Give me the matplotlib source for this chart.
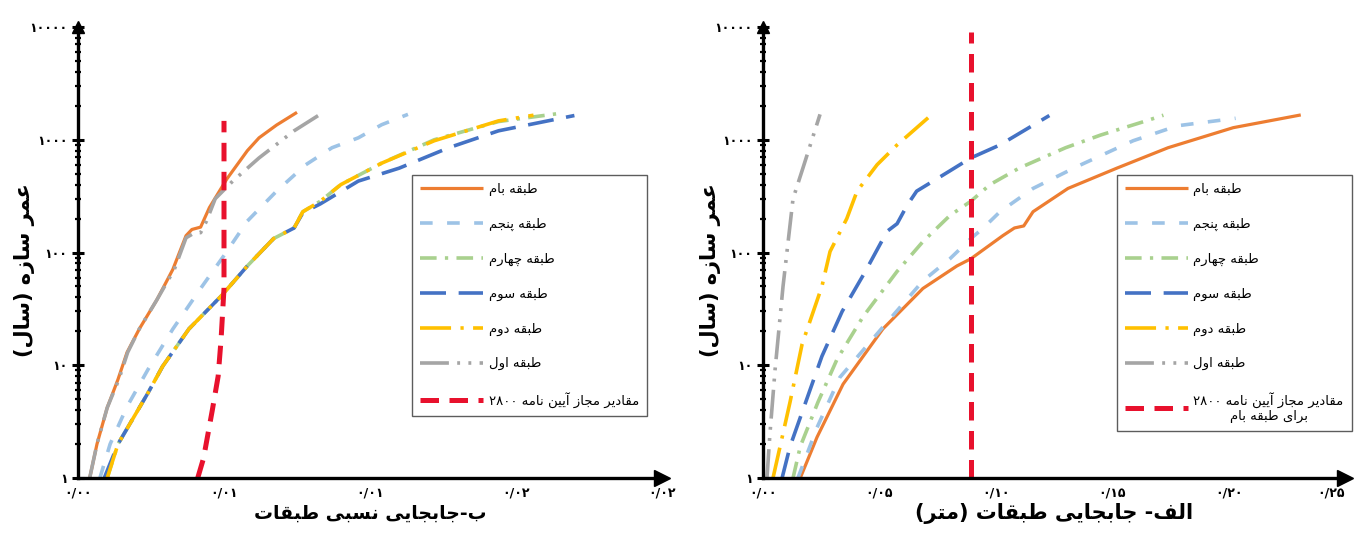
import re
import matplotlib
matplotlib.use("Agg")
import matplotlib.pyplot as plt

plt.rcParams['font.family'] = ['DejaVu Sans']

# ---- data: left panel (relative drift) ----
roof_drift = [0.0004, 0.00065, 0.001, 0.00137, 0.00168, 0.0021, 0.0027, 0.00325, 0.0037, 0.0039,
              0.0042, 0.0045, 0.0051, 0.0058, 0.0062, 0.0068, 0.0075]
roof_drift_yr = [1, 2, 4.2, 7.5, 13, 21, 38, 71, 141, 160, 168, 250, 450, 800, 1040, 1350, 1750]

f5_drift = [0.00075, 0.0011, 0.00168, 0.0024, 0.00325, 0.0042, 0.005, 0.0058, 0.0068, 0.0078,
            0.0087, 0.0096, 0.0104, 0.0113]
f5_drift_yr = [1, 2, 4.3, 9.2, 21, 48, 94, 190, 350, 600, 850, 1040, 1360, 1680]

f4_drift = [0.001, 0.00137, 0.0024, 0.0029, 0.0038, 0.0049, 0.0058, 0.0067, 0.0074, 0.0077,
            0.0083, 0.009, 0.0104, 0.0122, 0.0144, 0.0164]
f4_drift_yr = [1, 2, 5.7, 9.8, 21, 41, 76, 133, 165, 230, 285, 400, 620, 1000, 1450, 1700]

f3_drift = [0.0009, 0.00137, 0.0024, 0.0029, 0.0038, 0.0049, 0.0058, 0.0067, 0.0074, 0.0077,
            0.0083, 0.0096, 0.011, 0.0127, 0.0144, 0.017]
f3_drift_yr = [1, 2, 5.7, 9.8, 21, 41, 76, 133, 165, 225, 270, 430, 560, 850, 1200, 1640]

f2_drift = [0.001, 0.00137, 0.0024, 0.0029, 0.0038, 0.0049, 0.0058, 0.0067, 0.0074, 0.0077,
            0.0083, 0.009, 0.0104, 0.0122, 0.0133, 0.0144, 0.0156]
f2_drift_yr = [1, 2, 5.7, 9.8, 21, 41, 76, 133, 165, 230, 285, 400, 620, 980, 1200, 1470, 1650]

f1_drift = [0.0004, 0.00065, 0.001, 0.0014, 0.0017, 0.0021, 0.0027, 0.0033, 0.0037, 0.004,
            0.0042, 0.0044, 0.0047, 0.0053, 0.0062, 0.0074, 0.0084]
f1_drift_yr = [1, 2, 4.2, 7.5, 13, 21, 38, 71, 135, 150, 150, 190, 300, 430, 690, 1200, 1750]

limit_drift = [0.0041, 0.0043, 0.0046, 0.0048, 0.0049, 0.005, 0.005]
limit_drift_yr = [1, 1.5, 4, 8, 17, 48, 1470]

# ---- data: right panel (displacement, m) ----
roof_disp = [0.016, 0.0232, 0.0344, 0.0515, 0.0687, 0.0833, 0.0893, 0.103, 0.108, 0.112, 0.116,
             0.131, 0.152, 0.174, 0.202, 0.231]
roof_disp_yr = [1, 2.3, 6.8, 21, 48, 76, 88, 141, 165, 172, 230, 370, 560, 850, 1280, 1660]

f5_disp = [0.015, 0.0232, 0.033, 0.0515, 0.0687, 0.0803, 0.0893, 0.0945, 0.1018, 0.116, 0.135,
           0.159, 0.178, 0.203]
f5_disp_yr = [1, 2.8, 7.8, 21.8, 56, 88, 133, 164, 230, 370, 580, 980, 1330, 1550]

f4_disp = [0.0129, 0.016, 0.0236, 0.0318, 0.043, 0.0576, 0.0687, 0.0803, 0.0893, 0.0975, 0.11,
           0.123, 0.13, 0.145, 0.165, 0.172]
f4_disp_yr = [1, 1.9, 4.7, 11.3, 27, 68, 125, 213, 285, 400, 560, 735, 850, 1100, 1480, 1650]

f3_disp = [0.0082, 0.0116, 0.0253, 0.034, 0.0438, 0.0533, 0.0576, 0.0619, 0.066, 0.0803, 0.0893,
           0.1018, 0.123]
f3_disp_yr = [1, 1.9, 12, 30, 67, 154, 180, 262, 350, 530, 690, 900, 1640]

f2_disp = [0.0043, 0.0116, 0.0168, 0.0253, 0.0288, 0.036, 0.0404, 0.049, 0.0576, 0.0726]
f2_disp_yr = [1, 4.7, 15.4, 50, 102, 200, 350, 600, 900, 1680]

f1_disp = [0.0017, 0.003, 0.0052, 0.0086, 0.0129, 0.0172, 0.0245]
f1_disp_yr = [1, 2.5, 9.2, 50, 300, 565, 1680]

limit_disp = [0.0893, 0.0893]
limit_disp_yr = [1, 9000]

y_ticks = [1, 10, 100, 1000, 10000]
y_tick_labels = ['۱', '۱۰', '۱۰۰', '۱۰۰۰', '۱۰۰۰۰']
xl_ticks = [0, 0.005, 0.01, 0.015, 0.02]
xl_tick_labels = ['۰/۰۰', '۰/۰۱', '۰/۰۱', '۰/۰۲', '۰/۰۲']
xr_ticks = [0, 0.05, 0.10, 0.15, 0.20, 0.25]
xr_tick_labels = ['۰/۰۰', '۰/۰۵', '۰/۱۰', '۰/۱۵', '۰/۲۰', '۰/۲۵']

names = ['طبقه بام', 'طبقه پنجم', 'طبقه چهارم', 'طبقه سوم', 'طبقه دوم', 'طبقه اول']
limit_name_left = 'مقادیر مجاز آیین نامه ۲۸۰۰'
limit_name_right = 'مقادیر مجاز آیین نامه ۲۸۰۰\nبرای طبقه بام'

# ---- simple persian shaping (matplotlib has no complex text layout) ----
FORMS = {
    'ا': ('\uFE8D', '\uFE8E', None, None), 'آ': ('\uFE81', '\uFE82', None, None),
    'ب': ('\uFE8F', '\uFE90', '\uFE91', '\uFE92'), 'پ': ('\uFB56', '\uFB57', '\uFB58', '\uFB59'),
    'ت': ('\uFE95', '\uFE96', '\uFE97', '\uFE98'), 'ج': ('\uFE9D', '\uFE9E', '\uFE9F', '\uFEA0'),
    'چ': ('\uFB7A', '\uFB7B', '\uFB7C', '\uFB7D'), 'د': ('\uFEA9', '\uFEAA', None, None),
    'ر': ('\uFEAD', '\uFEAE', None, None), 'ز': ('\uFEAF', '\uFEB0', None, None),
    'س': ('\uFEB1', '\uFEB2', '\uFEB3', '\uFEB4'), 'ط': ('\uFEC1', '\uFEC2', '\uFEC3', '\uFEC4'),
    'ع': ('\uFEC9', '\uFECA', '\uFECB', '\uFECC'), 'ف': ('\uFED1', '\uFED2', '\uFED3', '\uFED4'),
    'ق': ('\uFED5', '\uFED6', '\uFED7', '\uFED8'), 'ل': ('\uFEDD', '\uFEDE', '\uFEDF', '\uFEE0'),
    'م': ('\uFEE1', '\uFEE2', '\uFEE3', '\uFEE4'), 'ن': ('\uFEE5', '\uFEE6', '\uFEE7', '\uFEE8'),
    'ه': ('\uFEE9', '\uFEEA', '\uFEEB', '\uFEEC'), 'و': ('\uFEED', '\uFEEE', None, None),
    'ی': ('\uFBFC', '\uFBFD', '\uFBFE', '\uFBFF'),
}
MIRROR = {'(': ')', ')': '('}


def fa_line(s):
    out = []
    for i, c in enumerate(s):
        if c not in FORMS:
            out.append(c)
            continue
        prev = s[i - 1] if i > 0 else ''
        nxt = s[i + 1] if i + 1 < len(s) else ''
        jp = prev in FORMS and FORMS[prev][2] is not None
        jn = FORMS[c][2] is not None and nxt in FORMS
        iso, fin, ini, med = FORMS[c]
        out.append(med if jp and jn else fin if jp else ini if jn else iso)
    shaped = ''.join(out)
    runs = re.findall(r'[۰-۹0-9]+(?:[/.][۰-۹0-9]+)*|[^۰-۹0-9]+', shaped)
    vis = []
    for r in reversed(runs):
        if re.match(r'[۰-۹0-9]', r):
            vis.append(r)
        else:
            vis.append(''.join(MIRROR.get(ch, ch) for ch in reversed(r)))
    return ''.join(vis)


def fa(s):
    return '\n'.join(fa_line(line) for line in s.split('\n'))


colors = ['#ED7D31', '#9DC3E6', '#A9D18E', '#4472C4', '#FFC000', '#A5A5A5']
dashes = [None, (3.5, 4), (4.6, 2.3, 0.9, 2.3), (7.2, 3.5), (8.6, 2.6, 0.9, 2.6),
          (8, 2.3, 0.8, 2.3, 0.8, 2.3)]

fig = plt.figure(figsize=(13.55, 5.48), dpi=100)
axL = fig.add_axes([78 / 1355, 70 / 548, 584 / 1355, 451 / 548])
axR = fig.add_axes([763 / 1355, 70 / 548, 582 / 1355, 451 / 548])

left_series = [(roof_drift, roof_drift_yr), (f5_drift, f5_drift_yr), (f4_drift, f4_drift_yr),
               (f3_drift, f3_drift_yr), (f2_drift, f2_drift_yr), (f1_drift, f1_drift_yr)]
right_series = [(roof_disp, roof_disp_yr), (f5_disp, f5_disp_yr), (f4_disp, f4_disp_yr),
                (f3_disp, f3_disp_yr), (f2_disp, f2_disp_yr), (f1_disp, f1_disp_yr)]

panels = [
    (axL, left_series, (limit_drift, limit_drift_yr), fa(limit_name_left), 0.02,
     xl_ticks, xl_tick_labels, fa('ب-جابجایی نسبی طبقات'), 13.5, (0.572, 0.672), -0.074),
    (axR, right_series, (limit_disp, limit_disp_yr), fa(limit_name_right), 0.25,
     xr_ticks, xr_tick_labels, fa('الف- جابجایی طبقات (متر)'), 15, (0.608, 0.672), -0.072),
]

for ax, series, limit, limit_label, xmax, xt, xtl, xlabel, xl_size, leg_pos, yl_x in panels:
    for (x, y), name, col, ds in zip(series, names, colors, dashes):
        line, = ax.plot(x, y, color=col, lw=2.3 if ds is None else 2.6, label=fa(name),
                        solid_capstyle='butt', dash_capstyle='butt')
        if ds is not None:
            line.set_dashes(ds)
    lim, = ax.plot(limit[0], limit[1], color='#E8112D', lw=3.6, label=limit_label,
                   dash_capstyle='butt')
    lim.set_dashes((3.7, 2.1))

    ax.set_yscale('log')
    ax.set_ylim(1, 10000)
    ax.set_xlim(0, xmax)
    ax.set_yticks(y_ticks)
    ax.set_yticklabels(y_tick_labels, fontsize=9, fontweight='bold')
    ax.set_xticks(xt)
    ax.set_xticklabels(xtl, fontsize=9, fontweight='bold')
    ax.tick_params(axis='x', length=0, pad=6)
    ax.tick_params(axis='y', which='major', direction='inout', length=9, width=2.2, pad=3)
    ax.tick_params(axis='y', which='minor', direction='inout', length=5, width=1.6)
    for side in ['top', 'right']:
        ax.spines[side].set_visible(False)
    for side in ['left', 'bottom']:
        ax.spines[side].set_linewidth(2.4)
    ax.plot([1], [0], marker='>', color='k', ms=11, transform=ax.transAxes, clip_on=False)
    ax.plot([0], [1], marker='^', color='k', ms=9, transform=ax.transAxes, clip_on=False)

    ax.set_xlabel(xlabel, fontsize=xl_size, fontweight='bold', labelpad=3)
    ax.set_ylabel(fa('عمر سازه (سال)'), fontsize=15, fontweight='bold')
    ax.yaxis.set_label_coords(yl_x, 0.46)

    leg = ax.legend(loc='upper left', bbox_to_anchor=leg_pos, fontsize=9.5, frameon=True,
                    fancybox=False, edgecolor='#333333', handlelength=4.8, handletextpad=0.4,
                    labelspacing=1.65, borderpad=0.6, borderaxespad=0)
    leg.get_frame().set_linewidth(1.0)
    leg.get_texts()[-1].set_multialignment('center')

axR.get_xticklabels()[-1].set_horizontalalignment('right')

fig.savefig('out.png', dpi=100)
